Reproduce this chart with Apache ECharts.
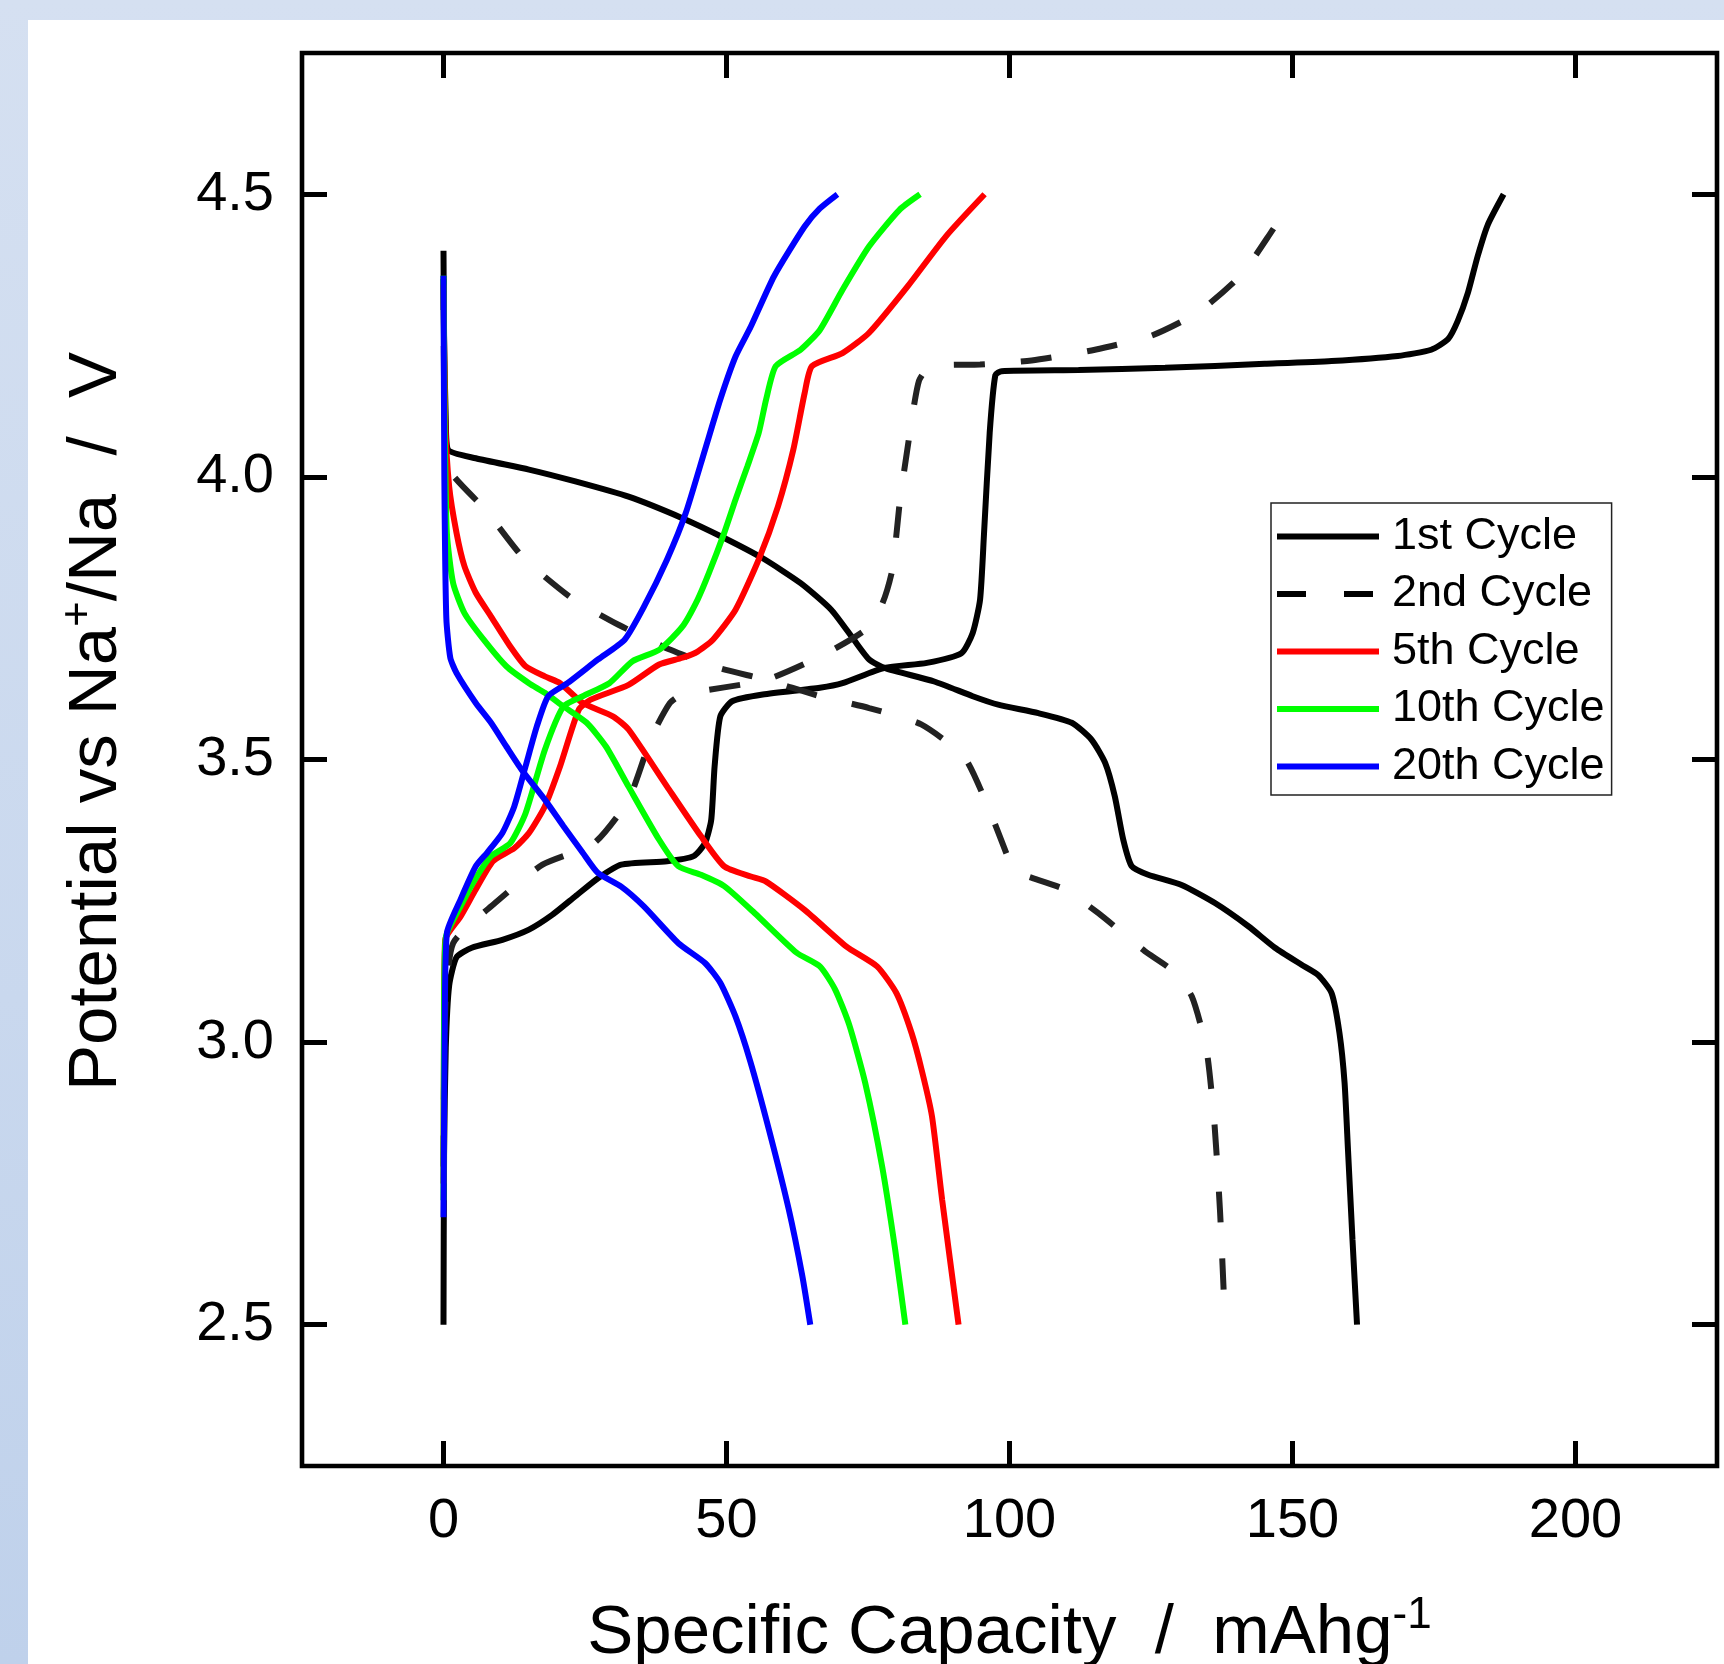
<!DOCTYPE html>
<html>
<head>
<meta charset="utf-8">
<script src="https://cdn.jsdelivr.net/npm/echarts@6/dist/echarts.min.js"></script>
<style>
  html, body { margin: 0; padding: 0; width: 1724px; height: 1664px; overflow: hidden; }
  #bg { position: absolute; left: 0; top: 0; width: 1724px; height: 1664px;
        background: linear-gradient(180deg, #d5e0f1 0%, #c9d8ee 60%, #bfd1eb 100%); }
  #panel { position: absolute; left: 28px; top: 20px; width: 1696px; height: 1644px; background: #ffffff; }
  #chart { position: absolute; left: 0; top: 0; width: 1724px; height: 1664px; }
</style>
</head>
<body>
<div id="bg"></div>
<div id="panel"></div>
<div id="chart"></div>
<script>
// ---- data (specific capacity mAh/g, potential V) ----
const cycleNames = ['1st Cycle', '2nd Cycle', '5th Cycle', '10th Cycle', '20th Cycle'];
const xTickValues = [0, 50, 100, 150, 200];
const yTickValues = [2.5, 3.0, 3.5, 4.0, 4.5];

const cyc1Charge = [[0,2.50],[0.1,2.80],[0.4,2.99],[1.0,3.10],[2.3,3.150],[5.0,3.167],[10.4,3.181],[15.1,3.199],[19.2,3.225],[23.3,3.258],[27.3,3.290],[31.4,3.314],[39.5,3.320],[44.2,3.329],[46.2,3.352],[47.3,3.393],[47.9,3.488],[48.9,3.576],[51.0,3.603],[56.4,3.615],[66.5,3.627],[70.5,3.635],[77.9,3.662],[85.4,3.671],[91.5,3.688],[93.5,3.724],[94.8,3.783],[95.5,3.900],[96.5,4.078],[97.5,4.180],[98.6,4.187],[112.2,4.189],[127.5,4.193],[145.1,4.200],[156.9,4.205],[168.6,4.214],[174.5,4.225],[177.5,4.244],[179.2,4.276],[181.0,4.326],[182.7,4.390],[184.5,4.446],[187.3,4.500]];
const cyc1Discharge = [[0,4.40],[0.1,4.25],[0.4,4.10],[0.8,4.048],[5.7,4.033],[15.1,4.013],[23.3,3.992],[32.7,3.965],[42.2,3.927],[49.6,3.892],[56.4,3.856],[63.1,3.812],[68.5,3.765],[72.5,3.712],[75.2,3.677],[77.9,3.662],[86.7,3.638],[93.5,3.612],[98.0,3.597],[105.1,3.582],[111.0,3.565],[114.5,3.535],[116.9,3.494],[118.6,3.435],[120.1,3.358],[121.6,3.311],[124.5,3.296],[130.4,3.278],[136.3,3.246],[142.2,3.205],[146.9,3.167],[151.6,3.137],[154.5,3.119],[156.9,3.087],[158.3,3.016],[159.2,2.928],[159.8,2.810],[160.6,2.65],[161.4,2.50]];

const cyc2Charge = [[0,2.78],[0.3,3.05],[1.7,3.175],[9.1,3.246],[17.5,3.314],[26.6,3.352],[32.7,3.429],[36.8,3.541],[40.0,3.600],[42.2,3.615],[57.0,3.641],[66.5,3.682],[74.6,3.730],[77.5,3.775],[79.3,3.836],[80.6,3.954],[82.3,4.072],[84.0,4.170],[86.1,4.196],[94.8,4.199],[103.9,4.206],[115.1,4.225],[125.1,4.250],[133.3,4.291],[141.0,4.358],[146.9,4.443],[148.5,4.466]];
const cyc2Discharge = [[0,4.35],[0.2,4.10],[1.0,4.013],[7.4,3.942],[14.1,3.857],[22.6,3.786],[31.0,3.738],[40.1,3.694],[48.6,3.662],[57.0,3.641],[66.5,3.612],[75.2,3.591],[84.4,3.562],[92.1,3.503],[96.9,3.399],[100.4,3.311],[101.6,3.299],[109.8,3.270],[115.7,3.228],[123.9,3.161],[128.6,3.128],[132.2,3.081],[134.8,2.987],[136.2,2.857],[137.2,2.70],[138.1,2.50]];

const cyc5Charge = [[0,2.75],[0.1,3.05],[0.3,3.181],[3.0,3.222],[5.7,3.270],[8.75,3.320],[12.5,3.343],[15.1,3.370],[17.9,3.417],[20.6,3.488],[23.9,3.588],[26.0,3.606],[32.7,3.632],[38.1,3.668],[42.2,3.680],[44.9,3.691],[47.6,3.712],[51.6,3.765],[55.7,3.854],[59.1,3.948],[61.8,4.048],[63.8,4.148],[65.1,4.196],[70.5,4.219],[75.2,4.255],[82.0,4.337],[88.8,4.426],[95.6,4.500]];
const cyc5Discharge = [[0,4.34],[0.3,4.10],[1.0,3.983],[2.3,3.901],[3.7,3.842],[5.7,3.795],[8.4,3.753],[11.8,3.700],[14.5,3.665],[17.9,3.647],[20.6,3.635],[24.6,3.600],[30.0,3.576],[32.7,3.553],[39.5,3.452],[45.5,3.364],[49.6,3.311],[54.3,3.293],[57.0,3.284],[63.8,3.234],[71.2,3.169],[76.6,3.134],[80.0,3.087],[82.7,3.016],[84.5,2.950],[86.3,2.869],[88.1,2.721],[91.0,2.50]];

const cyc10Charge = [[0,2.72],[0.1,3.05],[0.4,3.185],[3.0,3.240],[5.7,3.290],[8.4,3.329],[11.8,3.352],[14.5,3.405],[17.9,3.517],[21.2,3.594],[24.6,3.612],[29.3,3.635],[33.4,3.674],[38.1,3.694],[42.2,3.735],[44.9,3.783],[46.9,3.830],[49.6,3.901],[51.6,3.960],[53.7,4.019],[55.7,4.078],[57.0,4.137],[58.7,4.196],[63.1,4.225],[66.5,4.260],[70.5,4.331],[75.2,4.408],[80.6,4.473],[84.2,4.500]];
const cyc10Discharge = [[0,4.356],[0.2,4.10],[0.6,3.900],[1.7,3.812],[3.7,3.759],[7.1,3.712],[11.1,3.665],[15.1,3.635],[17.9,3.618],[21.2,3.594],[25.3,3.565],[28.7,3.523],[32.7,3.452],[38.1,3.358],[41.5,3.311],[45.5,3.296],[49.6,3.276],[55.0,3.228],[62.4,3.158],[66.5,3.134],[69.2,3.093],[71.7,3.030],[74.5,2.928],[77.5,2.780],[79.8,2.633],[81.6,2.50]];

const cyc20Charge = [[0,2.69],[0.2,3.00],[0.6,3.193],[3.0,3.252],[5.7,3.311],[7.7,3.335],[10.4,3.370],[12.5,3.417],[14.5,3.488],[16.5,3.559],[18.5,3.612],[21.9,3.635],[27.3,3.677],[32.0,3.712],[35.4,3.770],[39.5,3.854],[42.8,3.936],[46.2,4.048],[48.9,4.137],[51.6,4.213],[54.3,4.266],[58.4,4.355],[63.8,4.443],[66.5,4.475],[69.6,4.500]];
const cyc20Discharge = [[0,4.356],[0.15,4.00],[0.5,3.750],[1.2,3.680],[2.3,3.653],[5.7,3.600],[8.4,3.565],[11.1,3.523],[13.8,3.482],[17.9,3.429],[21.2,3.382],[24.6,3.335],[27.3,3.299],[31.4,3.275],[35.4,3.240],[41.5,3.175],[46.2,3.140],[48.9,3.105],[51.6,3.045],[54.2,2.966],[57.5,2.845],[61.0,2.704],[63.4,2.586],[64.8,2.50]];

const cycleColors = ['#000000', '#222222', '#ff0000', '#00ff00', '#0000ff'];
const cycleData = [
  [cyc1Charge, cyc1Discharge],
  [cyc2Charge, cyc2Discharge],
  [cyc5Charge, cyc5Discharge],
  [cyc10Charge, cyc10Discharge],
  [cyc20Charge, cyc20Discharge]
];

const FONT = '"Liberation Sans", Arial, Helvetica, sans-serif';
const SOLID_ICON = 'path://M0,0H102V6H0Z';
const DASH_ICON = 'path://M0,0H29V6H0Z M67,0H96V6H67Z M101.9,0H102V0.01H101.9Z';

const series = [];
cycleData.forEach((pair, i) => {
  pair.forEach(d => {
    series.push({
      type: 'line',
      name: cycleNames[i],
      data: d,
      symbol: 'none',
      smooth: 0.2,
      clip: true,
      z: 2 + i,
      lineStyle: { color: cycleColors[i], width: 6, type: i === 1 ? [31, 36] : 'solid', cap: 'butt' },
      itemStyle: { color: i === 1 ? '#000' : cycleColors[i] },
      emphasis: { disabled: true }
    });
  });
});

const axisCommon = {
  type: 'value',
  axisLine: { show: false, onZero: false },
  splitLine: { show: false }
};
const tickStyle = { color: '#000', width: 5 };

const chart = echarts.init(document.getElementById('chart'), null, { renderer: 'canvas' });
chart.setOption({
  backgroundColor: 'transparent',
  animation: false,
  grid: { left: 302, top: 53, right: 7, bottom: 198, outerBoundsMode: 'none', containLabel: false,
          show: true, borderColor: '#000', borderWidth: 4.6, backgroundColor: 'transparent' },
  legend: {
    orient: 'vertical', left: 1271, top: 503,
    itemWidth: 102, itemHeight: 6, itemGap: 12.5,
    padding: [11, 7, 6, 6],
    backgroundColor: '#ffffff', borderColor: '#222', borderWidth: 1.5,
    selectedMode: false,
    data: cycleNames.map((n, i) => ({ name: n, icon: i === 1 ? DASH_ICON : SOLID_ICON })),
    itemStyle: { borderWidth: 0 },
    textStyle: { fontSize: 45, lineHeight: 44, color: '#000', fontFamily: FONT, padding: [0, 0, 0, 8] }
  },
  xAxis: [
    Object.assign({}, axisCommon, {
      min: -25, max: 225, position: 'bottom',
      axisTick: { show: true, inside: true, length: 25, lineStyle: tickStyle, customValues: xTickValues },
      axisLabel: { customValues: xTickValues, fontSize: 56, color: '#000', fontFamily: FONT, margin: 28 },
      name: '{m|Specific Capacity  /  mAhg}{s|-1}',
      nameLocation: 'middle', nameGap: 128,
      nameTextStyle: { rich: {
        m: { fontSize: 69, lineHeight: 80, color: '#000', fontFamily: FONT },
        s: { fontSize: 44, lineHeight: 44, verticalAlign: 'top', color: '#000', fontFamily: FONT }
      } }
    }),
    Object.assign({}, axisCommon, {
      min: -25, max: 225, position: 'top',
      axisTick: { show: true, inside: true, length: 25, lineStyle: tickStyle, customValues: xTickValues },
      axisLabel: { show: false }
    })
  ],
  yAxis: [
    Object.assign({}, axisCommon, {
      min: 2.25, max: 4.75, position: 'left',
      axisTick: { show: true, inside: true, length: 25, lineStyle: tickStyle, customValues: yTickValues },
      axisLabel: { customValues: yTickValues, fontSize: 56, color: '#000', fontFamily: FONT, margin: 28,
                   formatter: v => Number(v).toFixed(1) },
      name: '{m|Potential vs Na}{s|+}{m|/Na  /  V}',
      nameLocation: 'middle', nameGap: 165, nameRotate: 90,
      nameTextStyle: { padding: [0, 0, 0, 76], rich: {
        m: { fontSize: 69, lineHeight: 80, color: '#000', fontFamily: FONT },
        s: { fontSize: 44, lineHeight: 44, verticalAlign: 'top', color: '#000', fontFamily: FONT }
      } }
    }),
    Object.assign({}, axisCommon, {
      min: 2.25, max: 4.75, position: 'right',
      axisTick: { show: true, inside: true, length: 25, lineStyle: tickStyle, customValues: yTickValues },
      axisLabel: { show: false }
    })
  ],
  series: series
});
</script>
</body>
</html>
